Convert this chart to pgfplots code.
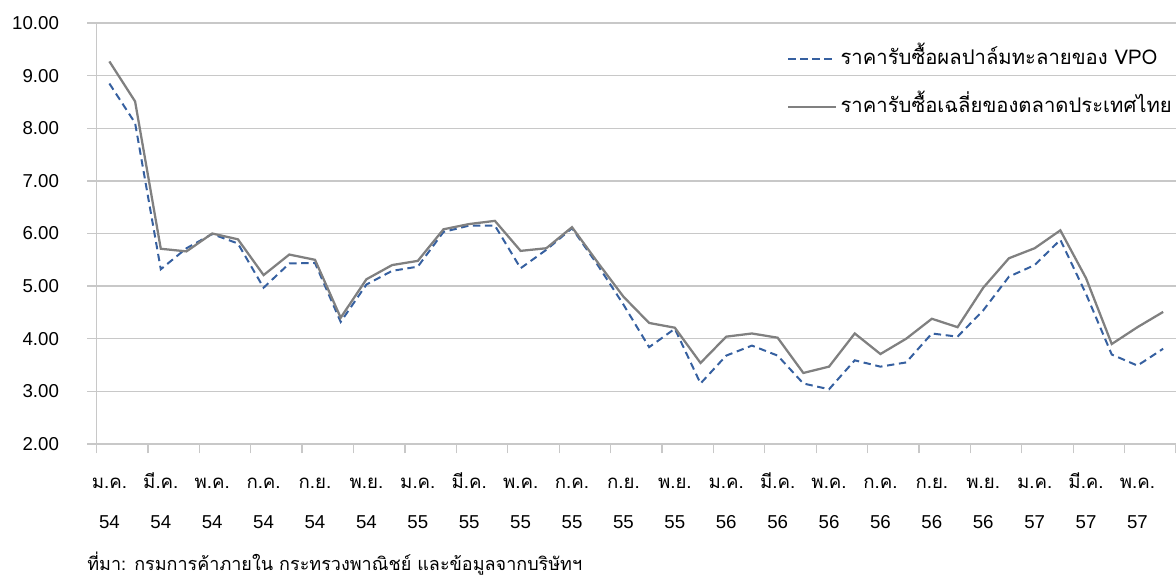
\documentclass[border=0pt]{standalone}
\usepackage{fontspec}
\setmainfont{Liberation Sans}
\newfontfamily\thai[Script=Thai]{Loma}
\usepackage{pgfplots}
\pgfplotsset{compat=1.18}
\usepackage{pgfplotstable}

\definecolor{gridgray}{RGB}{200,200,200}
\definecolor{vpoblue}{RGB}{54,96,160}
\definecolor{mktgray}{RGB}{128,128,128}

\newcommand\fs{\fontsize{14pt}{17pt}\selectfont}
\newcommand\ml[2]{\rule{0pt}{14pt}{\thai #1}\\[13pt]#2}

% month index (Jan 2554 = 1), VPO palm price, Thai market average price
\pgfplotstableread{
m  vpo   mkt
1  8.85  9.27
2  8.10  8.51
3  5.32  5.71
4  5.72  5.66
5  5.99  6.00
6  5.81  5.89
7  4.97  5.21
8  5.43  5.60
9  5.44  5.50
10 4.32  4.40
11 5.03  5.13
12 5.29  5.40
13 5.37  5.48
14 6.03  6.08
15 6.15  6.18
16 6.15  6.24
17 5.34  5.67
18 5.69  5.72
19 6.10  6.12
20 5.40  5.45
21 4.65  4.80
22 3.84  4.30
23 4.19  4.21
24 3.15  3.54
25 3.68  4.04
26 3.87  4.10
27 3.68  4.02
28 3.15  3.35
29 3.04  3.47
30 3.59  4.10
31 3.47  3.71
32 3.55  4.00
33 4.10  4.38
34 4.04  4.22
35 4.54  4.97
36 5.18  5.53
37 5.40  5.72
38 5.88  6.06
39 4.85  5.15
40 3.70  3.90
41 3.49  4.22
42 3.81  4.51
}\prices

\begin{document}
\begin{tikzpicture}
\useasboundingbox (-72.4pt,-102.75pt) rectangle (809.6pt,333pt);
\begin{axis}[
  scale only axis,
  width=809.6pt, height=315.75pt,
  at={(0,0)}, anchor=south west,
  xmin=0.5, xmax=42.5,
  ymin=2, ymax=10,
  ytick={2,3,...,10},
  xtick={0.5,2.5,...,42.5},
  xticklabels={},
  extra x ticks={1,3,...,41},
  extra x tick labels={\ml{ม.ค.}{54},\ml{มี.ค.}{54},\ml{พ.ค.}{54},\ml{ก.ค.}{54},\ml{ก.ย.}{54},\ml{พ.ย.}{54},
    \ml{ม.ค.}{55},\ml{มี.ค.}{55},\ml{พ.ค.}{55},\ml{ก.ค.}{55},\ml{ก.ย.}{55},\ml{พ.ย.}{55},
    \ml{ม.ค.}{56},\ml{มี.ค.}{56},\ml{พ.ค.}{56},\ml{ก.ค.}{56},\ml{ก.ย.}{56},\ml{พ.ย.}{56},
    \ml{ม.ค.}{57},\ml{มี.ค.}{57},\ml{พ.ค.}{57}},
  extra x tick style={major tick length=0pt, grid=none},
  axis x line*=bottom, axis y line*=left,
  axis line style={draw=gridgray, line width=1pt, -},
  tick align=outside,
  major tick length=7pt,
  tick style={draw=gridgray, line width=1pt},
  ymajorgrids,
  grid style={draw=gridgray, line width=1pt},
  yticklabel style={font=\fs, anchor=east, inner sep=0pt, xshift=-21pt},
  xticklabel style={font=\fs, align=center, anchor=north, inner sep=0pt, yshift=-18.8pt},
  /pgf/number format/.cd, fixed, fixed zerofill, precision=2, assume math mode=true,
  /pgfplots/.cd,
  legend style={draw=none, fill=none, font=\fontsize{15.2pt}{18pt}\selectfont,
    at={(0.6395,0.938)}, anchor=north west,
    inner sep=0pt, row sep=22.25pt, nodes={inner sep=0pt, text height=11pt, text depth=3pt}},
  legend cell align=left,
  legend image code/.code={\draw[#1] (0pt,0pt) -- (35.8pt,0pt);},
  /tikz/every odd column/.append style={column sep=2.6pt},
  clip=false,
]
\addplot[vpoblue, line width=1.5pt, dash pattern=on 5.5pt off 3.5pt] table[x=m, y=vpo] {\prices};
\addlegendentry{\thai ราคารับซื้อผลปาล์มทะลายของ VPO}
\addplot[mktgray, line width=1.7pt] table[x=m, y=mkt] {\prices};
\addlegendentry{\thai ราคารับซื้อเฉลี่ยของตลาดประเทศไทย}
\node[anchor=west, inner sep=0pt, font=\fontsize{13.5pt}{16pt}\selectfont] at (rel axis cs:0,0) [xshift=-7.1pt, yshift=-90pt]
  {\thai ที่มา: กรมการค้าภายใน กระทรวงพาณิชย์ และข้อมูลจากบริษัทฯ};
\end{axis}
\end{tikzpicture}
\end{document}
